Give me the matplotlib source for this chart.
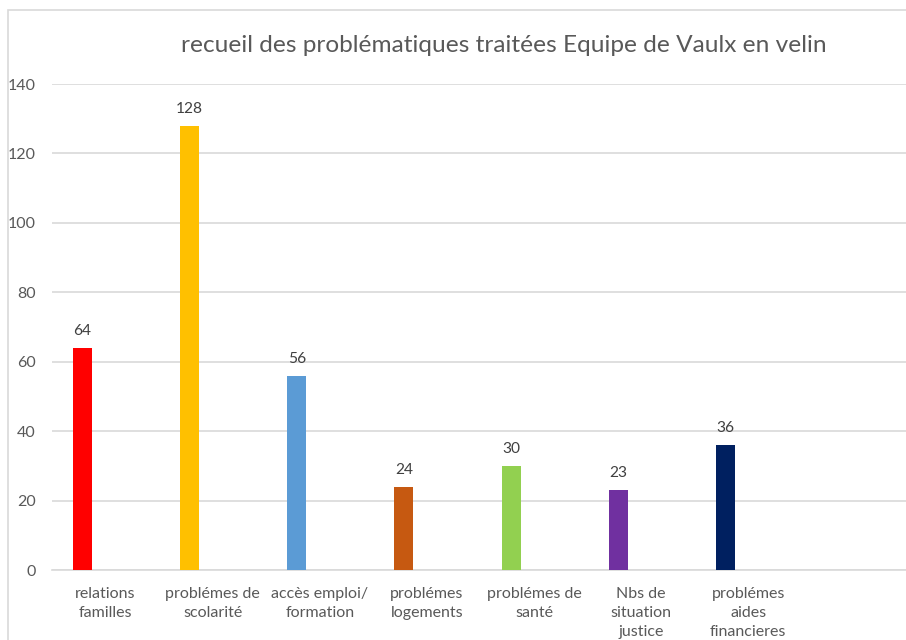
import matplotlib.pyplot as plt
from matplotlib.patches import Rectangle

categories = ["relations\nfamilles", "problémes de\nscolarité", "accès emploi/\nformation",
              "problémes\nlogements", "problémes de\nsanté", "Nbs de\nsituation\njustice",
              "problémes\naides\nfinancieres"]
values = [64, 128, 56, 24, 30, 23, 36]
colors = ["#ff0000", "#ffc000", "#5b9bd5", "#c65911", "#92d050", "#7030a0", "#002060"]
yticks = [0, 20, 40, 60, 80, 100, 120, 140]

plt.rcParams["font.family"] = ["Lato", "DejaVu Sans"]

W, H = 906, 640
fig = plt.figure(figsize=(W / 100, H / 100), dpi=100)
ax = fig.add_axes([52 / W, 70 / H, (909 - 52) / W, (570 - 84) / H])

# chart border (cropped on right/bottom)
fig.add_artist(Rectangle((8 / W, -0.1), 1.2, (H - 10) / H + 0.1, transform=fig.transFigure,
                         fill=False, edgecolor="#d9d9d9", linewidth=1.2))

x = range(len(values))
xpos = [i - 0.215 for i in x]
ax.bar(xpos, values, width=0.177, color=colors, zorder=3)

for xp, v in zip(xpos, values):
    ax.text(xp, v + 4.8, str(v), ha="center", va="center", fontsize=11.2, color="#404040")

ax.set_xlim(-0.5, 7.5)
ax.set_ylim(0, 140)
ax.set_yticks(yticks)
ax.set_xticks(list(x))
ax.set_xticklabels(categories, fontsize=11.5, color="#595959", linespacing=1.45, va="top")
ax.tick_params(axis="y", labelsize=11.5, labelcolor="#595959", length=0, pad=11.5)
ax.tick_params(axis="x", length=0, pad=12)

ax.grid(axis="y", color="#d9d9d9", linewidth=1.2, zorder=0)
for s in ["top", "right", "left"]:
    ax.spines[s].set_visible(False)
ax.spines["bottom"].set_color("#d9d9d9")
ax.spines["bottom"].set_linewidth(1.2)

fig.text(504 / W, 1 - 45 / H, "recueil des problématiques traitées Equipe de Vaulx en velin",
         ha="center", va="center", fontsize=17.6, color="#595959")

fig.savefig("out.png", dpi=100)
